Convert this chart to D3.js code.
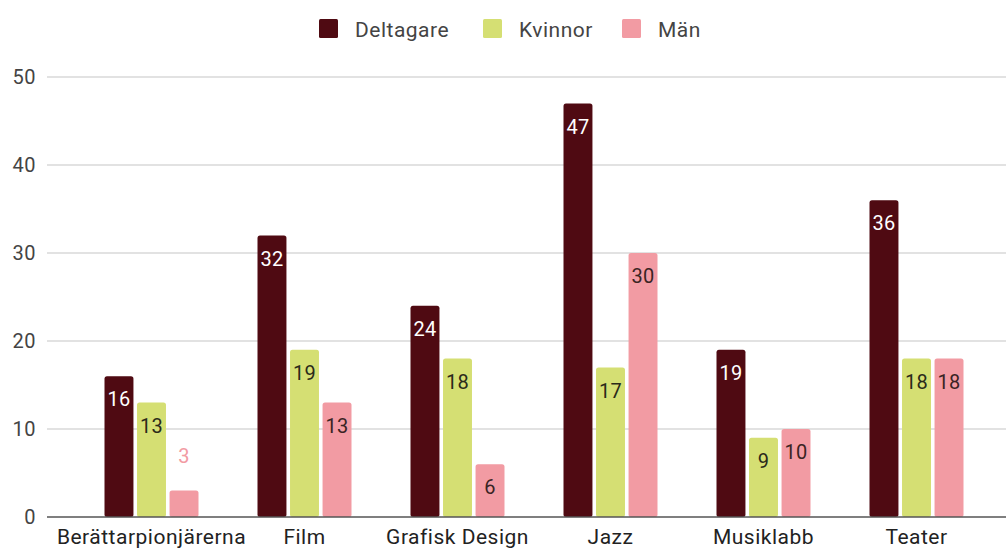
<!DOCTYPE html>
<html>
<head>
<meta charset="utf-8">
<script src="https://cdn.jsdelivr.net/npm/d3@7"></script>
<style>
  body { margin: 0; background: #fff; }
  svg { font-family: Roboto, "Noto Sans", sans-serif; }
</style>
</head>
<body>
<div id="root"></div>
<script>
const categories = ["Berättarpionjärerna", "Film", "Grafisk Design", "Jazz", "Musiklabb", "Teater"];
const seriesNames = ["Deltagare", "Kvinnor", "Män"];
const deltagare = [16, 32, 24, 47, 19, 36];
const kvinnor = [13, 19, 18, 17, 9, 18];
const man = [3, 13, 6, 30, 10, 18];
const yTicks = [0, 10, 20, 30, 40, 50];

const colors = ["#4f0a12", "#d5df73", "#f29ba3"];
const labelColors = ["#ffffff", "#2b2a1a", "#3a2424"];

const width = 1006, height = 551;
const series = [deltagare, kvinnor, man];

const svg = d3.select("#root").append("svg")
    .attr("width", width)
    .attr("height", height);

const y = d3.scaleLinear().domain([0, 50]).range([517, 77]);
const x0 = d3.scaleBand().domain(categories).range([75, 993]);
const x1 = d3.scaleBand().domain(seriesNames).range([0, 94]).paddingInner(0.11);

// gridlines + y labels
svg.append("g")
  .selectAll("line")
  .data(yTicks.filter(d => d > 0))
  .join("line")
    .attr("x1", 47).attr("x2", width)
    .attr("y1", d => y(d)).attr("y2", d => y(d))
    .attr("stroke", "#d9d9d9").attr("stroke-width", 1.5);

svg.append("g")
  .selectAll("text")
  .data(yTicks)
  .join("text")
    .attr("x", 36)
    .attr("y", d => y(d))
    .attr("dy", "0.36em")
    .attr("text-anchor", "end")
    .attr("font-size", 20)
    .attr("letter-spacing", 0.5)
    .attr("fill", "#444")
    .text(d => d);

// bars
const groups = svg.append("g")
  .selectAll("g")
  .data(categories)
  .join("g")
    .attr("transform", d => `translate(${x0(d) + x0.bandwidth() / 2 - 47}, 0)`);

groups.each(function(cat, i) {
  const g = d3.select(this);
  seriesNames.forEach((s, j) => {
    const v = series[j][i];
    g.append("rect")
      .attr("x", x1(s))
      .attr("y", y(v))
      .attr("width", x1.bandwidth())
      .attr("height", y(0) - y(v))
      .attr("rx", 2.5)
      .attr("fill", colors[j]);

    const inside = (y(0) - y(v)) > 40;
    g.append("text")
      .attr("x", x1(s) + x1.bandwidth() / 2)
      .attr("y", inside ? y(v) + 23 : y(v) - 35)
      .attr("dy", "0.36em")
      .attr("text-anchor", "middle")
      .attr("font-size", 20)
      .attr("letter-spacing", 0.3)
      .attr("fill", inside ? labelColors[j] : colors[j])
      .text(v);
  });
});

// baseline
svg.append("line")
  .attr("x1", 47).attr("x2", width)
  .attr("y1", y(0)).attr("y2", y(0))
  .attr("stroke", "#555").attr("stroke-width", 1.5);

// x labels
svg.append("g")
  .selectAll("text")
  .data(categories)
  .join("text")
    .attr("x", d => x0(d) + x0.bandwidth() / 2)
    .attr("y", 536)
    .attr("dy", "0.36em")
    .attr("text-anchor", "middle")
    .attr("font-size", 21)
    .attr("letter-spacing", 0.5)
    .attr("fill", "#222")
    .text(d => d);

// legend
const legendX = [319, 483, 622];
const legend = svg.append("g")
  .selectAll("g")
  .data(seriesNames)
  .join("g")
    .attr("transform", (d, i) => `translate(${legendX[i]}, 19)`);

legend.append("rect")
  .attr("width", 19).attr("height", 19)
  .attr("rx", 1.5)
  .attr("fill", (d, i) => colors[i]);

legend.append("text")
  .attr("x", 36).attr("y", 10)
  .attr("dy", "0.36em")
  .attr("font-size", 21)
  .attr("letter-spacing", 0.5)
  .attr("fill", "#444")
  .text(d => d);
</script>
</body>
</html>
